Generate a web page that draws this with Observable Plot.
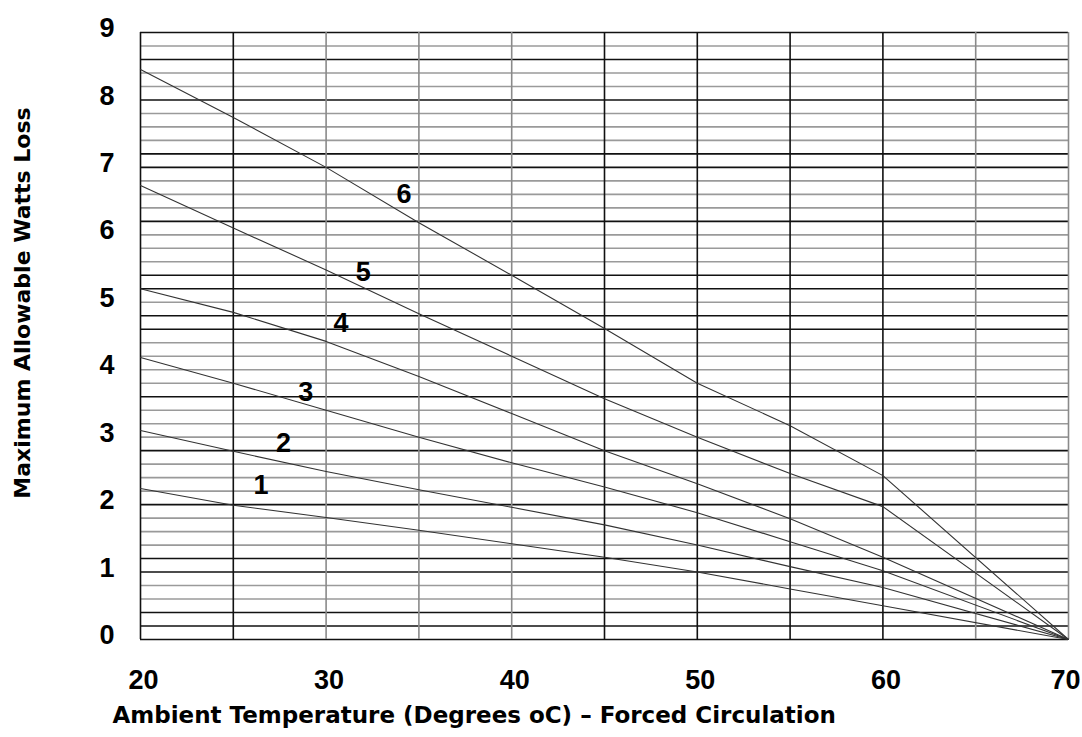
<!DOCTYPE html>
<html>
<head>
<meta charset="utf-8">
<script src="https://cdn.jsdelivr.net/npm/d3@7"></script>
<script src="https://cdn.jsdelivr.net/npm/@observablehq/plot@0.6"></script>
<style>
  html, body { margin: 0; padding: 0; background: #fff; }
  #chart svg { display: block; }
</style>
</head>
<body>
<div id="chart"></div>
<script>
// ---- data ----
const temps   = [20, 25, 30, 35, 40, 45, 50, 55, 60, 70];
const curve1  = [2.24, 1.99, 1.81, 1.62, 1.42, 1.22, 1.00, 0.75, 0.50, 0];
const curve2  = [3.10, 2.79, 2.49, 2.22, 1.96, 1.70, 1.40, 1.08, 0.77, 0];
const curve3  = [4.18, 3.80, 3.40, 3.00, 2.62, 2.26, 1.88, 1.45, 1.02, 0];
const curve4  = [5.20, 4.85, 4.42, 3.90, 3.35, 2.80, 2.31, 1.79, 1.22, 0];
const curve5  = [6.73, 6.10, 5.48, 4.83, 4.20, 3.57, 3.00, 2.46, 1.97, 0];
const curve6  = [8.45, 7.74, 7.00, 6.18, 5.40, 4.61, 3.80, 3.17, 2.43, 0];
const curveNames = ["1", "2", "3", "4", "5", "6"];
const labelTemps = [26.5, 27.7, 28.9, 30.8, 32.0, 34.2];
const labelWatts = [2.28, 2.91, 3.67, 4.69, 5.45, 6.60];
const xTicks = [20, 30, 40, 50, 60];
const xLastTick = [70];
const yTicks = [0, 1, 2, 3, 4, 5, 6, 7, 8, 9];
const xTitle = "Ambient Temperature (Degrees oC) \u2013 Forced Circulation";
const yTitle = "Maximum Allowable Watts Loss";
const darkH = [8.6, 8.0, 7.2, 7.0, 6.2, 5.4, 5.2, 4.8, 4.6, 3.6, 2.8, 2.0, 1.2, 1.0, 0.4, 0.2];
const darkV = [25, 45, 50, 55, 60];

// ---- build ----
const curves = [curve1, curve2, curve3, curve4, curve5, curve6];
const rows = curves.flatMap((c, i) => c.map((w, j) => ({curve: curveNames[i], t: temps[j], w})));
const labels = curveNames.map((n, i) => ({n, t: labelTemps[i], w: labelWatts[i]}));
const hLines = d3.range(0, 46).map(k => Math.round(k * 2) / 10);
const vLines = d3.range(20, 71, 5);
const isDark = (arr, v) => arr.some(a => Math.abs(a - v) < 1e-6);
const numFont = "Liberation Sans, Arial, sans-serif";
const titleFont = "DejaVu Sans, sans-serif";
const xAxisStyle = {tickSize: 0, tickPadding: 30, fontSize: 27, fontWeight: "bold",
  tickFormat: "d", fontFamily: numFont, label: null};

const chart = Plot.plot({
  width: 1082,
  height: 737,
  marginTop: 32,
  marginBottom: 98,
  marginLeft: 140,
  marginRight: 14,
  style: {background: "#fff", color: "#000"},
  x: {domain: [20, 70]},
  y: {domain: [0, 9]},
  marks: [
    Plot.ruleY(hLines, {
      stroke: d => (d === 0 || d === 9 || isDark(darkH, d)) ? "#111" : "#9a9a9a",
      strokeWidth: 1.6
    }),
    Plot.ruleX(vLines, {
      stroke: d => (d === 20 || isDark(darkV, d)) ? "#111" : "#8a8a8a",
      strokeWidth: 1.6
    }),
    Plot.line(rows, {x: "t", y: "w", z: "curve", stroke: "#333", strokeWidth: 1.1}),
    Plot.text(labels, {x: "t", y: "w", text: "n", fontSize: 27, fontWeight: "bold",
      fontFamily: numFont, fill: "#000"}),
    Plot.axisX(xTicks, {...xAxisStyle, dx: 3}),
    Plot.axisX(xLastTick, {...xAxisStyle, dx: -3}),
    Plot.axisY(yTicks, {tickSize: 0, tickPadding: 26, fontSize: 27, fontWeight: "bold",
      tickFormat: "d", dy: -4, fontFamily: numFont, label: null}),
    Plot.text([xTitle], {frameAnchor: "bottom-left", dx: -28, dy: 83, textAnchor: "start",
      fontSize: 23, fontWeight: "bold", fontFamily: titleFont, fill: "#000"}),
    Plot.text([yTitle], {frameAnchor: "left", rotate: -90, dx: -118, dy: -33, textAnchor: "middle",
      fontSize: 22, fontWeight: "bold", fontFamily: titleFont, fill: "#000"})
  ]
});
document.getElementById("chart").appendChild(chart);
</script>
</body>
</html>
